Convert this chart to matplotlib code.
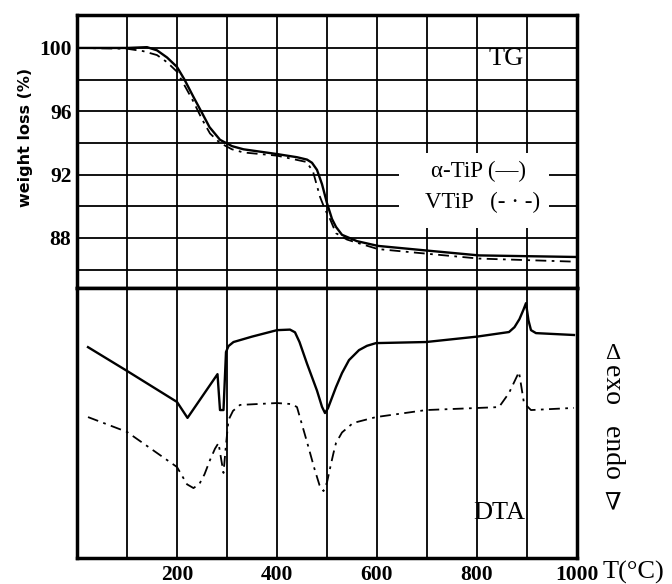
import matplotlib.pyplot as plt
from matplotlib.patches import Rectangle

# TG curves (weight %)
tg_t = [0, 100, 140, 160, 180, 200, 215, 233, 250, 265, 286, 310, 333, 400, 440, 460, 470, 480, 490, 500, 510, 518, 530, 560, 602, 702, 804, 1000]
tg_solid = [100.0, 100.0, 100.05, 99.85, 99.4, 98.8, 98.0, 96.9, 95.9, 95.0, 94.2, 93.8, 93.6, 93.3, 93.1, 92.95, 92.75, 92.3, 91.4, 90.2, 89.2, 88.7, 88.2, 87.8, 87.5, 87.2, 86.9, 86.8]
tg2_t = [0, 100, 132, 160, 180, 200, 233, 250, 266, 286, 310, 333, 400, 459, 472, 486, 496, 506, 518, 540, 560, 602, 702, 804, 1000]
tg_dash = [100.0, 99.95, 99.8, 99.55, 99.1, 98.5, 96.6, 95.5, 94.6, 94.0, 93.6, 93.4, 93.2, 92.8, 92.2, 90.6, 89.8, 89.2, 88.3, 87.9, 87.7, 87.3, 87.0, 86.7, 86.5]

# DTA curves (arbitrary units)
dta_t = [22, 100, 200, 221, 281, 286, 293, 298, 303, 313, 350, 400, 426, 436, 445, 460, 480, 490, 496, 502, 518, 530, 544, 564, 580, 598, 698, 800, 864, 875, 885, 893, 898, 903, 908, 918, 994]
dta_solid = [78.1, 69.3, 57.8, 51.9, 68.1, 54.8, 54.8, 76.3, 78.5, 80.0, 82.0, 84.4, 84.6, 83.6, 80.0, 72.0, 62.0, 56.0, 53.7, 55.5, 63.3, 68.5, 73.3, 77.0, 78.6, 79.6, 80.0, 82.0, 83.7, 85.5, 88.5, 92.0, 94.4, 88.0, 84.4, 83.3, 82.6]
dta2_t = [22, 100, 200, 210, 220, 233, 245, 255, 266, 276, 283, 288, 293, 298, 303, 312, 326, 400, 430, 440, 446, 460, 475, 485, 493, 500, 507, 513, 518, 530, 552, 598, 698, 844, 864, 884, 894, 908, 994]
dta_dash = [52.2, 46.7, 33.7, 30.5, 27.3, 25.9, 27.5, 31.0, 36.3, 40.5, 42.6, 37.0, 31.5, 42.0, 51.1, 54.5, 56.7, 57.4, 57.0, 55.9, 52.0, 43.0, 33.0, 27.0, 24.8, 28.0, 34.0, 38.9, 42.6, 46.5, 50.0, 52.2, 54.8, 55.9, 61.1, 68.9, 57.4, 54.8, 55.6]

tg_ticks = [88, 92, 96, 100]
x_ticks = [200, 400, 600, 800, 1000]

serif = ['Liberation Serif', 'DejaVu Serif']
dashdot = (0, (6, 3, 1.5, 3))

fig = plt.figure(figsize=(6.72, 5.84), dpi=100)
ax1 = fig.add_axes([0.1146, 0.5068, 0.744, 0.4675])
ax2 = fig.add_axes([0.1146, 0.0445, 0.744, 0.4623])

for ax in (ax1, ax2):
    ax.set_xlim(0, 1000)
    for s in ax.spines.values():
        s.set_linewidth(2.5)
    for xv in range(100, 1000, 100):
        ax.axvline(xv, color='black', lw=1.3, zorder=1)
    ax.tick_params(length=0)

# TG panel
ax1.set_ylim(84.84, 102.08)
for yv in range(86, 102, 2):
    ax1.axhline(yv, color='black', lw=1.3, zorder=1)
ax1.plot(tg_t, tg_solid, color='black', lw=1.7, zorder=3)
ax1.plot(tg2_t, tg_dash, color='black', lw=1.3, ls=dashdot, zorder=3)
ax1.set_xticks([])
ax1.set_yticks(tg_ticks)
ax1.set_yticklabels([str(v) for v in tg_ticks], fontfamily=serif, fontsize=15.5, fontweight='bold')
ax1.tick_params(axis='y', pad=4)
ax1.set_ylabel('weight loss (%)', fontsize=11.5, fontweight='bold')
ax1.yaxis.set_label_coords(-0.088, 0.553)
ax1.add_patch(Rectangle((644, 88.63), 300, 4.74, facecolor='white', edgecolor='none', zorder=2))
ax1.text(804, 92.17, 'α-TiP (—)', fontfamily=serif, fontsize=16.5, ha='center', va='center', zorder=4)
ax1.text(812, 90.27, 'VTiP   (- · -)', fontfamily=serif, fontsize=16.5, ha='center', va='center', zorder=4)
ax1.text(858, 99.3, 'TG', fontfamily=serif, fontsize=19, ha='center', va='center', zorder=4)

# DTA panel
ax2.set_ylim(0, 100)
ax2.plot(dta_t, dta_solid, color='black', lw=1.7, zorder=3)
ax2.plot(dta2_t, dta_dash, color='black', lw=1.3, ls=dashdot, zorder=3)
ax2.set_yticks([])
ax2.set_xticks(x_ticks)
ax2.set_xticklabels([str(v) for v in x_ticks], fontfamily=serif, fontsize=15.5, fontweight='bold')
ax2.tick_params(axis='x', pad=5)
ax2.text(844, 16.7, 'DTA', fontfamily=serif, fontsize=19, ha='center', va='center', zorder=4)

fig.text(0.943, 0.019, 'T(°C)', fontfamily=serif, fontsize=19, ha='center', va='center')
fig.text(0.911, 0.395, 'Δ', fontfamily=serif, fontsize=17, ha='center', va='center')
fig.text(0.911, 0.135, '∇', fontfamily=serif, fontsize=17, ha='center', va='center')
fig.text(0.911, 0.279, 'exo   endo', fontfamily=serif, fontsize=20, rotation=270, ha='center', va='center')

fig.savefig('out.png', dpi=100)
